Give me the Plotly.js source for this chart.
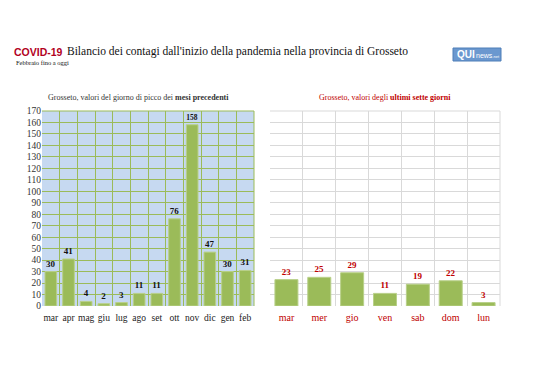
<!DOCTYPE html>
<html><head><meta charset="utf-8">
<script src="https://cdn.plot.ly/plotly-3.0.1.min.js"></script>
<style>html,body{margin:0;padding:0;background:#fff}#c{width:538px;height:380px}</style>
</head><body><div id="c"></div>
<script>
const monthLabels = ["mar","apr","mag","giu","lug","ago","set","ott","nov","dic","gen","feb"];
const monthPeaks = [30,41,4,2,3,11,11,76,158,47,30,31];
const dayLabels = ["mar","mer","gio","ven","sab","dom","lun"];
const dayValues = [23,25,29,11,19,22,3];

const W=538,H=380;
const px=x=>x/W, py=y=>1-y/H;
const serif="Liberation Serif, Times New Roman, serif";
const red="#c00000";

const traces=[
 {type:"bar",x:monthLabels,y:monthPeaks,xaxis:"x",yaxis:"y",width:0.66,
  marker:{color:"#9bbb59",line:{color:"#b9d08a",width:1}},
  text:monthPeaks.map(String),textposition:"outside",cliponaxis:false,
  textfont:{family:serif,size:9,color:"#111",weight:"bold"},hoverinfo:"none"},
 {type:"bar",x:dayLabels,y:dayValues,xaxis:"x2",yaxis:"y2",width:0.7,
  marker:{color:"#9bbb59",line:{color:"#b9d08a",width:1}},
  text:dayValues.map(String),textposition:"outside",cliponaxis:false,
  textfont:{family:serif,size:9,color:red,weight:"bold"},hoverinfo:"none"}
];

const ydom=[py(306),py(111)];
const layout={
 width:W,height:H,margin:{l:0,r:0,t:0,b:0},showlegend:false,
 paper_bgcolor:"#fff",plot_bgcolor:"rgba(0,0,0,0)",
 xaxis:{domain:[px(42),px(254)],type:"category",tickson:"boundaries",showgrid:true,gridcolor:"#9bbb59",gridwidth:1,
   ticks:"",tickangle:0,ticklabelstandoff:4,tickfont:{family:serif,size:9.5,color:"#222"},fixedrange:true,zeroline:false,showline:false},
 yaxis:{domain:ydom,range:[0,170],dtick:10,showgrid:true,gridcolor:"#9bbb59",gridwidth:1,zeroline:false,
   tickfont:{family:serif,size:9.5,color:"#333"},ticks:"",showline:false},
 xaxis2:{domain:[px(270),px(500)],anchor:"y2",type:"category",tickson:"boundaries",showgrid:true,gridcolor:"#d9d9d9",
   ticks:"",tickangle:0,ticklabelstandoff:4,tickfont:{family:serif,size:10,color:red},zeroline:false,showline:false},
 yaxis2:{domain:ydom,anchor:"x2",range:[0,170],dtick:10,showgrid:true,gridcolor:"#d9d9d9",zeroline:false,
   showticklabels:false,ticks:"",showline:false},
 shapes:[
  {type:"rect",xref:"x domain",yref:"y domain",x0:0,x1:1,y0:0,y1:1,fillcolor:"#c6d9f1",line:{width:0},layer:"below"},
  {type:"line",xref:"x domain",yref:"y domain",x0:1,x1:1,y0:0,y1:1,line:{color:"#9bbb59",width:1},layer:"below"},
  {type:"line",xref:"x domain",yref:"y domain",x0:0,x1:1,y0:1,y1:1,line:{color:"#9bbb59",width:1},layer:"below"},
  {type:"line",xref:"x2 domain",yref:"y2 domain",x0:1,x1:1,y0:0,y1:1,line:{color:"#d9d9d9",width:1},layer:"below"},
  {type:"line",xref:"x2 domain",yref:"y2 domain",x0:0,x1:1,y0:1,y1:1,line:{color:"#d9d9d9",width:1},layer:"below"},
  {type:"rect",xref:"paper",yref:"paper",x0:px(453),x1:px(501),y0:py(61),y1:py(48),fillcolor:"#6b98cf",line:{color:"#4f7fb8",width:1}}
 ],
 annotations:[
  {xref:"paper",yref:"paper",x:px(12),y:py(52),xanchor:"left",yanchor:"middle",showarrow:false,
   text:"<b>COVID-19</b>",font:{family:"Liberation Sans, Arial",size:10.5,color:"#b2001e"}},
  {xref:"paper",yref:"paper",x:px(65),y:py(52),xanchor:"left",yanchor:"middle",showarrow:false,
   text:"Bilancio dei contagi dall'inizio della pandemia nella provincia di Grosseto",font:{family:serif,size:11.5,color:"#111"}},
  {xref:"paper",yref:"paper",x:px(14),y:py(63),xanchor:"left",yanchor:"middle",showarrow:false,
   text:"Febbraio fino a oggi",font:{family:serif,size:6.5,color:"#111"}},
  {xref:"paper",yref:"paper",x:px(138),y:py(97),xanchor:"center",yanchor:"middle",showarrow:false,
   text:"Grosseto, valori del giorno di picco dei <b>mesi precedenti</b>",font:{family:serif,size:8,color:"#333"}},
  {xref:"paper",yref:"paper",x:px(385),y:py(97),xanchor:"center",yanchor:"middle",showarrow:false,
   text:"Grosseto, valori degli <b>ultimi sette giorni</b>",font:{family:serif,size:8,color:red}},
  {xref:"paper",yref:"paper",x:px(455),y:py(54.5),xanchor:"left",yanchor:"middle",showarrow:false,
   text:"<b>QUI</b>",font:{family:"Liberation Sans, Arial",size:10,color:"#fff"}},
  {xref:"paper",yref:"paper",x:px(474),y:py(55.5),xanchor:"left",yanchor:"middle",showarrow:false,
   text:"news<span style='font-size:4px'>.net</span>",font:{family:"Liberation Sans, Arial",size:7,color:"#fff"}}
 ]
};
Plotly.newPlot("c",traces,layout,{staticPlot:true,displayModeBar:false});
</script></body></html>
